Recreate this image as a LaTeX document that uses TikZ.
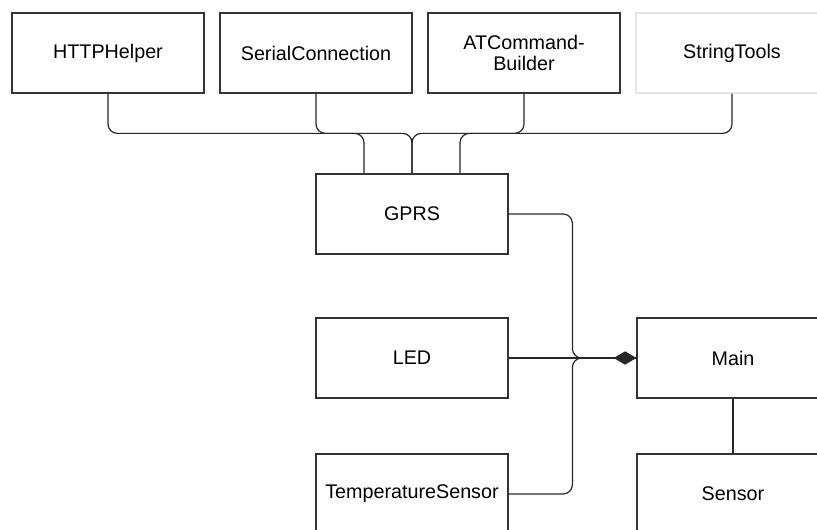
\documentclass[tikz,border=0pt]{standalone}
\usepackage{fontspec}
\setmainfont{Liberation Sans}
\usetikzlibrary{arrows.meta, positioning}

\begin{document}
\begin{tikzpicture}[
  x=0.75pt, y=-0.75pt,
  cls/.style={rectangle, draw=black!80, line width=0.9pt, fill=white,
              minimum width=144pt, minimum height=60pt, align=center,
              inner sep=2pt, font=\fontsize{14.8}{16.2}\selectfont},
  faint/.style={cls, draw=black!10},
  link/.style={draw=black!85, line width=0.9pt, rounded corners=7pt},
  comp/.style={link, -{Diamond[length=17pt, width=10pt]}}
]
\useasboundingbox (0,0) rectangle (817,530);
\clip (0,0) rectangle (817,530);

\node[cls] (http) at (108,53) {HTTPHelper};
\node[cls, right=11.1pt of http] (serial) {SerialConnection};
\node[cls, right=11.1pt of serial] (atcmd) {ATCommand-\\Builder};
\node[faint, right=11.1pt of atcmd] (strtools) {StringTools};

\node[cls] (gprs) at (412,214) {GPRS};
\node[cls] (led) at (412,358) {LED};
\node[cls] (temp) at (412,494) {TemperatureSensor};
\node[cls] (main) at (733,358) {Main};
\node[cls] (sensor) at (733,494) {Sensor};

\draw[link] (http.south) |- ([xshift=-36pt, yshift=30pt]gprs.north) -- ([xshift=-36pt]gprs.north);
\draw[link] (serial.south) |- ([yshift=30pt]gprs.north) -- (gprs.north);
\draw[link] (atcmd.south) |- ([xshift=36pt, yshift=30pt]gprs.north) -- ([xshift=36pt]gprs.north);
\draw[link] (strtools.south) |- ([yshift=30pt]gprs.north) -- (gprs.north);

\draw[link] (gprs.east) -| ([xshift=-48pt]main.west) -- (main.west);
\draw[link] (temp.east) -| ([xshift=-48pt]main.west) -- (main.west);
\draw[comp] (led.east) -- (main.west);

\draw[link] (main.south) -- (sensor.north);

\end{tikzpicture}
\end{document}
